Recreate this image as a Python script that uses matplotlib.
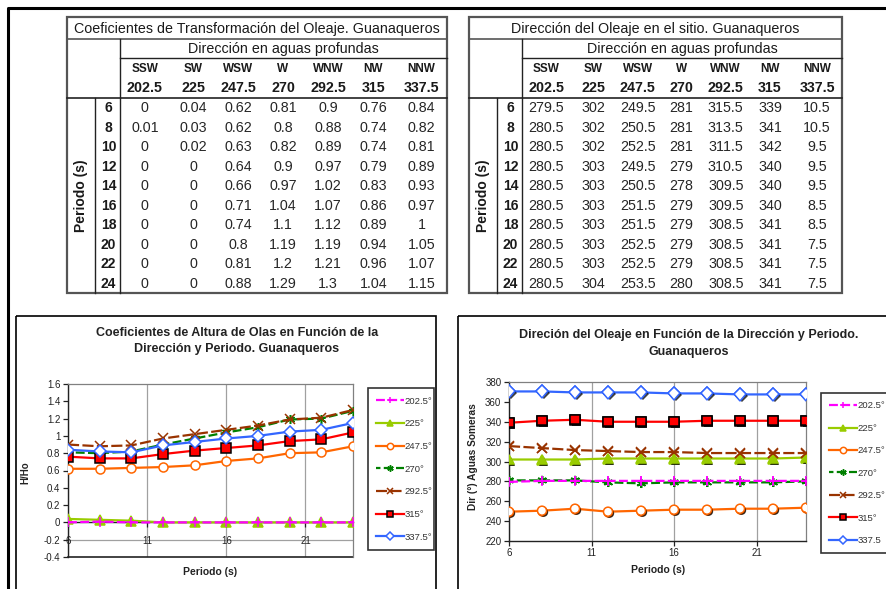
import matplotlib.pyplot as plt
import matplotlib.patheffects as pe
from matplotlib.patches import Rectangle
from matplotlib.ticker import MultipleLocator

plt.rcParams['font.family'] = ['Liberation Sans', 'DejaVu Sans']

W, H = 887, 589

periods = [6, 8, 10, 12, 14, 16, 18, 20, 22, 24]
dir_codes = ['SSW', 'SW', 'WSW', 'W', 'WNW', 'NW', 'NNW']
dir_deg = ['202.5', '225', '247.5', '270', '292.5', '315', '337.5']

# coeficiente H/Ho por dirección en aguas profundas
k_2025 = [0, 0.01, 0, 0, 0, 0, 0, 0, 0, 0]
k_225 = [0.04, 0.03, 0.02, 0, 0, 0, 0, 0, 0, 0]
k_2475 = [0.62, 0.62, 0.63, 0.64, 0.66, 0.71, 0.74, 0.8, 0.81, 0.88]
k_270 = [0.81, 0.8, 0.82, 0.9, 0.97, 1.04, 1.1, 1.19, 1.2, 1.29]
k_2925 = [0.9, 0.88, 0.89, 0.97, 1.02, 1.07, 1.12, 1.19, 1.21, 1.3]
k_315 = [0.76, 0.74, 0.74, 0.79, 0.83, 0.86, 0.89, 0.94, 0.96, 1.04]
k_3375 = [0.84, 0.82, 0.81, 0.89, 0.93, 0.97, 1, 1.05, 1.07, 1.15]

# dirección del oleaje en el sitio (grados)
d_2025 = [279.5, 280.5, 280.5, 280.5, 280.5, 280.5, 280.5, 280.5, 280.5, 280.5]
d_225 = [302, 302, 302, 303, 303, 303, 303, 303, 303, 304]
d_2475 = [249.5, 250.5, 252.5, 249.5, 250.5, 251.5, 251.5, 252.5, 252.5, 253.5]
d_270 = [281, 281, 281, 279, 278, 279, 279, 279, 279, 280]
d_2925 = [315.5, 313.5, 311.5, 310.5, 309.5, 309.5, 308.5, 308.5, 308.5, 308.5]
d_315 = [339, 341, 342, 340, 340, 340, 341, 341, 341, 341]
d_3375 = [10.5, 10.5, 9.5, 9.5, 9.5, 8.5, 8.5, 7.5, 7.5, 7.5]

coef = [k_2025, k_225, k_2475, k_270, k_2925, k_315, k_3375]
dirs = [d_2025, d_225, d_2475, d_270, d_2925, d_315, d_3375]

x_ticks = [6, 11, 16, 21]

styles = [
    dict(color='#FF00FF', ls=(0, (4, 1.5)), marker='+', mfc='#FF00FF', mec='#FF00FF', zorder=5),
    dict(color='#99CC00', ls='-', marker='^', mfc='#99CC00', mec='#99CC00', zorder=4),
    dict(color='#FF6600', ls='-', marker='o', mfc='white', mec='#FF6600', zorder=4),
    dict(color='#008000', ls=(2, (4, 1.5)), marker=(6, 2, 0), mfc='#008000', mec='#008000', zorder=4),
    dict(color='#993300', ls=(0, (5, 1.5)), marker='x', mfc='#993300', mec='#993300', zorder=4),
    dict(color='#FF0000', ls='-', marker='s', mfc='#FF0000', mec='black', zorder=4),
    dict(color='#3366FF', ls='-', marker='D', mfc='white', mec='#3366FF', zorder=4),
]

fig = plt.figure(figsize=(W / 100, H / 100), dpi=100)
bg = fig.add_axes([0, 0, 1, 1])
bg.set_xlim(0, W)
bg.set_ylim(H, 0)
bg.axis('off')

TXT = '#1a1a1a'


def fmt(v):
    return '%g' % v


def draw_table(x0, x1, title, cols):
    y0, y_t, y_d, y_h, y1 = 17, 39, 58, 98, 293
    xa, xb = x0 + 28, x0 + 53
    widths = [49, 46, 43, 45, 44, 45, 50]
    sc = (x1 - xb) / sum(widths)
    edges = [xb]
    for w in widths:
        edges.append(edges[-1] + w * sc)
    centers = [(edges[i] + edges[i + 1]) / 2 for i in range(7)]

    bg.add_patch(Rectangle((x0, y0), x1 - x0, y1 - y0, fill=False,
                           ec='#555555', lw=1.6))
    bg.plot([x0, x1], [y_t, y_t], color='#555555', lw=1.2)
    bg.plot([xb, x1], [y_d, y_d], color='#222222', lw=1.0)
    bg.plot([x0, x1], [y_h, y_h], color='#222222', lw=1.2)
    bg.plot([xb, xb], [y_t, y1], color='#222222', lw=1.0)
    bg.plot([xa, xa], [y_h, y1], color='#222222', lw=1.0)

    bg.text((x0 + x1) / 2, (y0 + y_t) / 2 + 1, title, ha='center', va='center',
            fontsize=10.3, color=TXT)
    bg.text((xb + x1) / 2, (y_t + y_d) / 2 + 1, 'Dirección en aguas profundas',
            ha='center', va='center', fontsize=10.3, color=TXT)
    bg.text((x0 + xa) / 2, (y_h + y1) / 2, 'Periodo (s)', rotation=90,
            ha='center', va='center', fontsize=10, fontweight='bold', color=TXT)

    rh = (y1 - y_h) / len(periods)
    for j in range(7):
        bg.text(centers[j], 69, dir_codes[j], ha='center', va='center',
                fontsize=8.5, fontweight='bold', color=TXT)
        bg.text(centers[j], 88.5, dir_deg[j], ha='center', va='center',
                fontsize=10.3, fontweight='bold', color=TXT)
    for i, p in enumerate(periods):
        yc = y_h + rh * (i + 0.5) + 0.5
        bg.text((xa + xb) / 2 + 1, yc, str(p), ha='center', va='center',
                fontsize=10, fontweight='bold', color=TXT)
        for j in range(7):
            bg.text(centers[j], yc, fmt(cols[j][i]), ha='center', va='center',
                    fontsize=10.3, color='#262626')


draw_table(67, 447, 'Coeficientes de Transformación del Oleaje. Guanaqueros', coef)
draw_table(469, 842, 'Dirección del Oleaje en el sitio. Guanaqueros', dirs)

# marcos
bg.plot([8, 8, W], [H, 8, 8], color='black', lw=2.2, solid_capstyle='butt')
bg.add_patch(Rectangle((16, 316), 420, 300, fill=False, ec='black', lw=1.2))
bg.add_patch(Rectangle((458, 316), 440, 300, fill=False, ec='black', lw=1.2))


def px_axes(l, r, t, b):
    return fig.add_axes([l / W, 1 - b / H, (r - l) / W, (b - t) / H])


def style_axes(ax):
    for s in ['top', 'right']:
        ax.spines[s].set_color('#808080')
        ax.spines[s].set_linewidth(0.9)
    for s in ['left', 'bottom']:
        ax.spines[s].set_color('#222222')
        ax.spines[s].set_linewidth(1.0)
    ax.tick_params(labelsize=7, colors='#222222', length=3.5, width=0.9,
                   pad=2)
    ax.set_xticks(x_ticks)
    ax.set_xticklabels([str(t) for t in x_ticks])
    ax.grid(axis='x', color='#A0A0A0', lw=0.9)
    ax.set_axisbelow(True)


def add_legend(ax, x, y, w, spacing):
    leg = ax.legend(loc='upper left', bbox_to_anchor=(x / W, 1 - y / H, w / W, 0),
                    bbox_transform=fig.transFigure, mode='expand', fontsize=6.8,
                    frameon=True, fancybox=False, edgecolor='black',
                    handlelength=2.9, handletextpad=0.1, labelspacing=spacing,
                    borderpad=0.9, borderaxespad=0, markerscale=0.7,
                    labelcolor='#333333')
    leg.get_frame().set_linewidth(1.2)


# H/Ho vs periodo
ax1 = px_axes(68, 353, 384, 557)
for vals, lab, st in zip(coef, dir_deg, styles):
    ax1.plot(periods, vals, lw=1.6, ms=6.5, mew=1.1, label=lab + '°', **st)
ax1.set_xlim(6, 24)
ax1.set_ylim(-0.4, 1.6)
y1_ticks = [-0.4, -0.2, 0, 0.2, 0.4, 0.6, 0.8, 1, 1.2, 1.4, 1.6]
ax1.set_yticks(y1_ticks)
ax1.set_yticklabels(['%g' % t for t in y1_ticks])
style_axes(ax1)
ax1.spines['bottom'].set_position(('data', 0))
ax1.tick_params(axis='x', pad=6)
ax1.axhline(-0.2, color='#A0A0A0', lw=0.9, zorder=0)
ax1.axhline(-0.4, color='#222222', lw=1.2, zorder=1, clip_on=False)
add_legend(ax1, 368, 388, 66, 1.45)

bg.text(237, 333, 'Coeficientes de Altura de Olas en Función de la',
        ha='center', va='center', fontsize=9, fontweight='bold', color='#222222')
bg.text(237, 349, 'Dirección y Periodo. Guanaqueros',
        ha='center', va='center', fontsize=9, fontweight='bold', color='#222222')
bg.text(25, 473, 'H/Ho', rotation=90, ha='center', va='center',
        fontsize=7, fontweight='bold', color='#222222')
bg.text(210, 572, 'Periodo (s)', ha='center', va='center',
        fontsize=7.5, fontweight='bold', color='#222222')

# dirección en el sitio vs periodo
ax2 = px_axes(509, 806, 382, 541)
shadow = [pe.SimplePatchShadow(offset=(1.2, -1.2), shadow_rgbFace='black',
                               alpha=0.75), pe.Normal()]
for vals, lab, st in zip(dirs, dir_deg, styles):
    # 337.5 cruza el norte: se grafica sobre 360
    y = [v + 360 if v < 180 else v for v in vals]
    name = lab if lab == '337.5' else lab + '°'
    ax2.plot(periods, y, lw=1.6, ms=6.5, mew=1.1, label=name, **st)
    mk = dict(st)
    mk['ls'] = 'none'
    mk['zorder'] = st['zorder'] + 0.5
    ax2.plot(periods, y, ms=6.5, mew=1.1, path_effects=shadow, **mk)
ax2.set_xlim(6, 24)
ax2.set_ylim(220, 380)
ax2.yaxis.set_major_locator(MultipleLocator(20))
style_axes(ax2)
ax2.tick_params(axis='x', pad=1.5)
add_legend(ax2, 821, 393, 80, 1.42)

bg.text(689, 335, 'Direción del Oleaje en Función de la Dirección y Periodo.',
        ha='center', va='center', fontsize=9, fontweight='bold', color='#222222')
bg.text(689, 352, 'Guanaqueros',
        ha='center', va='center', fontsize=9, fontweight='bold', color='#222222')
bg.text(473, 457, 'Dir (°) Aguas Someras', rotation=90, ha='center', va='center',
        fontsize=7.3, fontweight='bold', color='#222222')
bg.text(658, 570, 'Periodo (s)', ha='center', va='center',
        fontsize=7.5, fontweight='bold', color='#222222')

fig.savefig('out.png', dpi=100)
